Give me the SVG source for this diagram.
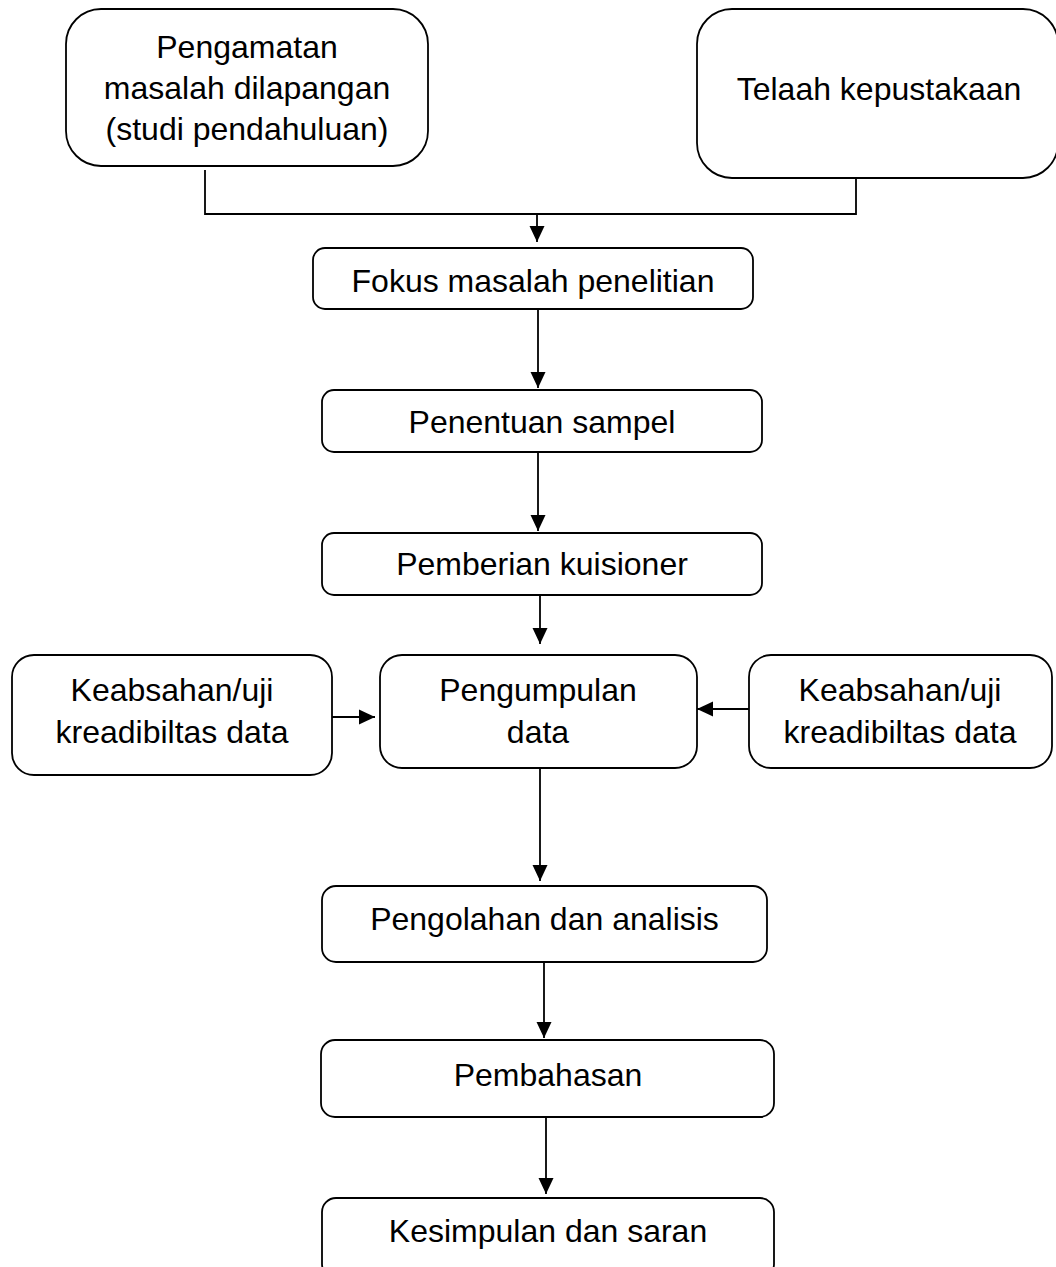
<svg xmlns="http://www.w3.org/2000/svg" width="1056" height="1267" viewBox="0 0 1056 1267">
<style>
.box{fill:#fff;stroke:#000;stroke-width:1.8}
.t{font-family:"Liberation Sans",Arial,sans-serif;font-size:32px;fill:#000;text-anchor:middle}
.c{fill:none;stroke:#000;stroke-width:1.8}
</style>
<defs>
<marker id="arr" markerUnits="userSpaceOnUse" markerWidth="16" markerHeight="16" viewBox="0 0 16 16" refX="16" refY="8" orient="auto">
<path d="M0,0.5 L16,8 L0,15.5 Z" fill="#000"/>
</marker>
</defs>
<rect width="1056" height="1267" fill="#fff"/>
<g id="connectors">
<path class="c" d="M205,170 V214 H856 V178"/>
<path class="c" d="M537,214 V242" marker-end="url(#arr)"/>
<path class="c" d="M538,309 V388" marker-end="url(#arr)"/>
<path class="c" d="M538,452 V531" marker-end="url(#arr)"/>
<path class="c" d="M540,595 V644" marker-end="url(#arr)"/>
<path class="c" d="M332,717 H375" marker-end="url(#arr)"/>
<path class="c" d="M749,709 H697" marker-end="url(#arr)"/>
<path class="c" d="M540,768 V881" marker-end="url(#arr)"/>
<path class="c" d="M544,962 V1038" marker-end="url(#arr)"/>
<path class="c" d="M546,1117 V1194" marker-end="url(#arr)"/>
</g>
<g id="n1"><rect class="box" x="66" y="9" width="362" height="157" rx="35"/>
<text class="t" x="247" y="58">Pengamatan</text><text class="t" x="247" y="99">masalah dilapangan</text><text class="t" x="247" y="140">(studi pendahuluan)</text></g>
<g id="n2"><rect class="box" x="697" y="9" width="361" height="169" rx="35"/>
<text class="t" x="879" y="100">Telaah kepustakaan</text></g>
<g id="n3"><rect class="box" x="313" y="248" width="440" height="61" rx="12"/>
<text class="t" x="533" y="292">Fokus masalah penelitian</text></g>
<g id="n4"><rect class="box" x="322" y="390" width="440" height="62" rx="12"/>
<text class="t" x="542" y="433">Penentuan sampel</text></g>
<g id="n5"><rect class="box" x="322" y="533" width="440" height="62" rx="12"/>
<text class="t" x="542" y="575">Pemberian kuisioner</text></g>
<g id="n6"><rect class="box" x="380" y="655" width="317" height="113" rx="22"/>
<text class="t" x="538" y="701">Pengumpulan</text><text class="t" x="538" y="743">data</text></g>
<g id="n7"><rect class="box" x="12" y="655" width="320" height="120" rx="22"/>
<text class="t" x="172" y="701">Keabsahan/uji</text><text class="t" x="172" y="743">kreadibiltas data</text></g>
<g id="n8"><rect class="box" x="749" y="655" width="303" height="113" rx="22"/>
<text class="t" x="900" y="701">Keabsahan/uji</text><text class="t" x="900" y="743">kreadibiltas data</text></g>
<g id="n9"><rect class="box" x="322" y="886" width="445" height="76" rx="14"/>
<text class="t" x="544.5" y="930">Pengolahan dan analisis</text></g>
<g id="n10"><rect class="box" x="321" y="1040" width="453" height="77" rx="14"/>
<text class="t" x="548" y="1086">Pembahasan</text></g>
<g id="n11"><rect class="box" x="322" y="1198" width="452" height="80" rx="14"/>
<text class="t" x="548" y="1242">Kesimpulan dan saran</text></g>
</svg>
